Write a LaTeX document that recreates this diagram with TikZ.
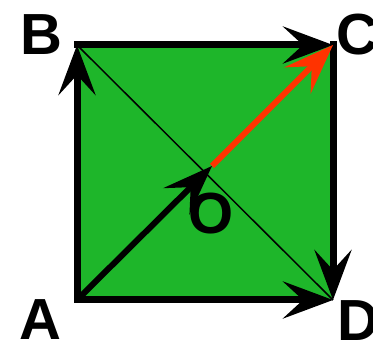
\documentclass[tikz,border=0pt]{standalone}
\usepackage{fontspec}
\setmainfont{Liberation Sans}
\usetikzlibrary{arrows.meta}

\definecolor{sqgreen}{RGB}{30,182,42}
\definecolor{vecred}{RGB}{255,51,0}

\begin{document}
\begin{tikzpicture}[
x=1pt, y=1pt,
every node/.style={font=\fontsize{58}{58}\selectfont\bfseries, inner sep=0pt},
side/.style={line width=7pt, line cap=rect, -{Stealth[length=50pt, width=37pt, inset=20pt]}},
vec/.style={line width=6pt, -{Stealth[length=50pt, width=37pt, inset=20pt]}}
]

\useasboundingbox (0,0) rectangle (373,343);

\coordinate (A) at (77,43);
\coordinate (B) at (77,298);
\coordinate (C) at (333,298);
\coordinate (D) at (333,43);
\coordinate (O) at (212,177);


\fill[sqgreen] (A) rectangle (C);

\draw[line width=1.5pt] (B) -- (D);


\draw[side] (A) -- (B);
\draw[side] (B) -- (C);
\draw[side] (C) -- (D);
\draw[side] (A) -- (D);


\draw[vec] (A) -- (O);
\draw[vec, vecred] (O) -- (C);


\node (labA) at (40,23) {A};
\node (labB) at (41,308) {B};
\node (labC) at (357,308) {C};
\node (labD) at (358,22) {D};
\node (labO) at (211,129) {O};

\end{tikzpicture}
\end{document}
